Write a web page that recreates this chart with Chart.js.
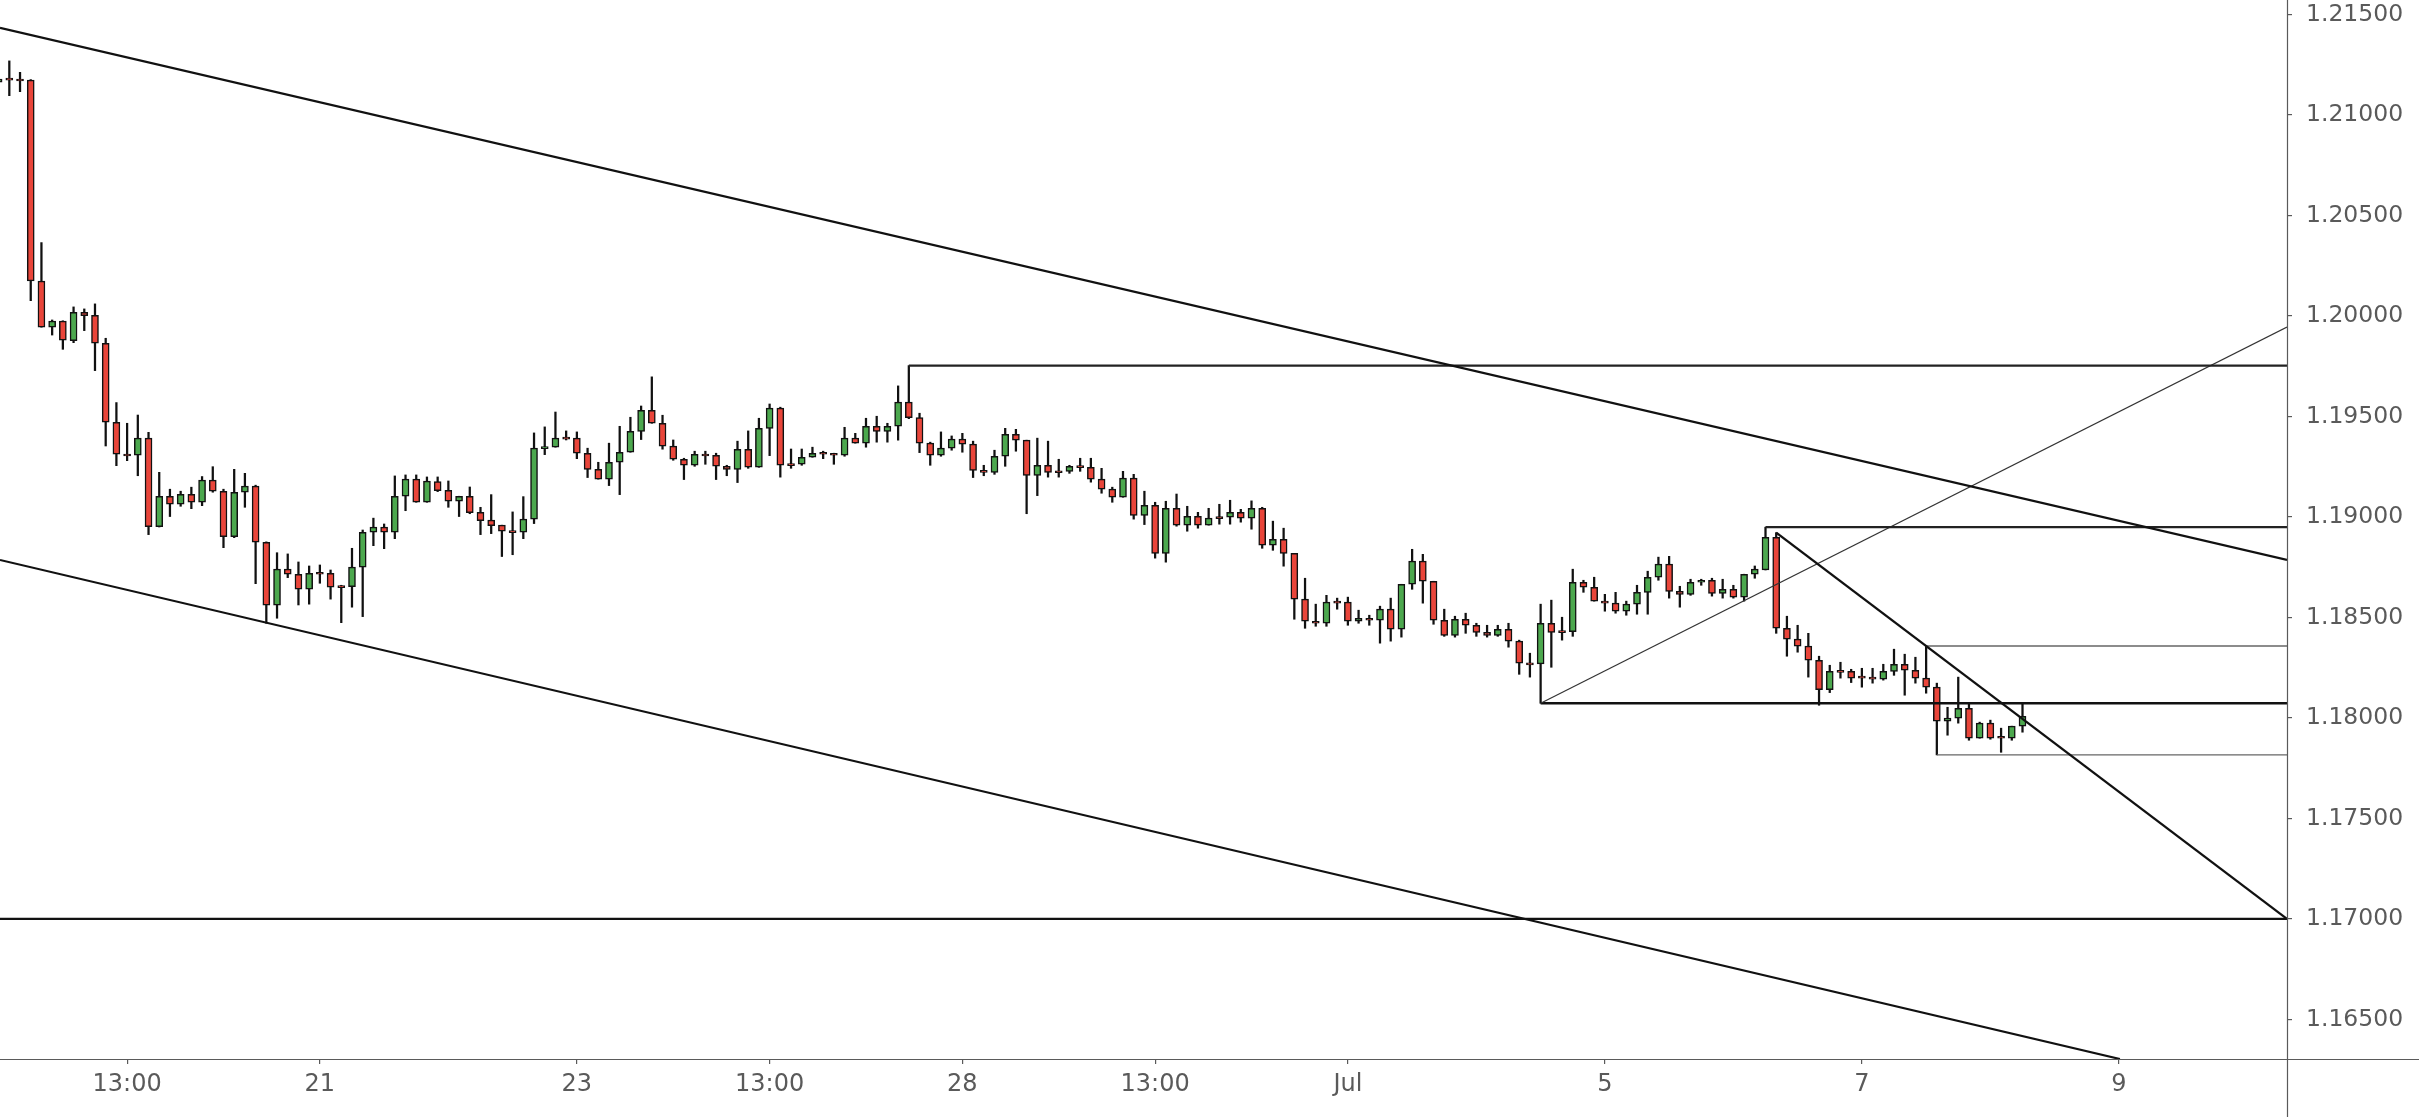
<!DOCTYPE html>
<html>
<head>
<meta charset="utf-8">
<script src="https://cdn.jsdelivr.net/npm/chart.js@4.4.0/dist/chart.umd.min.js"></script>
<style>
html,body{margin:0;padding:0;background:#ffffff;overflow:hidden}
#wrap{width:2419px;height:1117px;position:relative}
</style>
</head>
<body>
<div id="wrap"><canvas id="c" width="2419" height="1117"></canvas></div>
<script>
// ---------------- DATA ----------------
// 2-hour candles, index of the first candle in the arrays
const firstCandleIndex = -1;

const opens = [1.21163,1.21183,1.21179,1.21174,1.20174,1.19944,1.19974,1.19877,1.20018,1.20003,
1.19864,1.19471,1.19313,1.19307,1.19392,1.18952,1.19103,1.19063,1.19113,1.19073,
1.19183,1.19128,1.18902,1.19123,1.19153,1.18874,1.18561,1.18740,1.18715,1.18640,
1.18725,1.18720,1.18658,1.18653,1.18750,1.18924,1.18949,1.18924,1.19103,1.19188,
1.19073,1.19176,1.19133,1.19078,1.19103,1.19023,1.18984,1.18959,1.18932,1.18924,
1.18989,1.19340,1.19347,1.19397,1.19392,1.19317,1.19237,1.19188,1.19272,1.19322,
1.19426,1.19531,1.19466,1.19352,1.19287,1.19257,1.19313,1.19307,1.19252,1.19237,
1.19337,1.19247,1.19441,1.19541,1.19265,1.19262,1.19297,1.19322,1.19317,1.19307,
1.19392,1.19367,1.19451,1.19426,1.19451,1.19571,1.19494,1.19367,1.19307,1.19342,
1.19387,1.19362,1.19232,1.19222,1.19302,1.19411,1.19382,1.19207,1.19257,1.19230,
1.19227,1.19255,1.19247,1.19188,1.19138,1.19098,1.19193,1.19008,1.19058,1.18819,
1.19043,1.18959,1.19003,1.18959,1.19002,1.18999,1.19023,1.18994,1.19043,1.18859,
1.18889,1.18819,1.18591,1.18481,1.18471,1.18581,1.18576,1.18481,1.18496,1.18486,
1.18541,1.18441,1.18665,1.18780,1.18680,1.18486,1.18411,1.18491,1.18461,1.18426,
1.18411,1.18441,1.18382,1.18274,1.18269,1.18471,1.18434,1.18429,1.18675,1.18650,
1.18581,1.18571,1.18531,1.18566,1.18625,1.18700,1.18765,1.18630,1.18615,1.18675,
1.18685,1.18620,1.18640,1.18601,1.18715,1.18736,1.18899,1.18446,1.18392,1.18357,
1.18287,1.18141,1.18237,1.18232,1.18208,1.18203,1.18193,1.18232,1.18267,1.18237,
1.18198,1.18153,1.17984,1.17999,1.18048,1.17899,1.17974,1.17909,1.17899,1.17959];

const highs = [1.21199,1.21269,1.21212,1.21176,1.20365,1.19980,1.19976,1.20045,1.20035,1.20060,
1.19889,1.19569,1.19466,1.19507,1.19421,1.19222,1.19138,1.19128,1.19148,1.19201,
1.19250,1.19138,1.19237,1.19217,1.19158,1.18876,1.18822,1.18816,1.18776,1.18756,
1.18761,1.18736,1.18660,1.18844,1.18935,1.18994,1.18965,1.19204,1.19209,1.19209,
1.19199,1.19199,1.19179,1.19103,1.19149,1.19048,1.19111,1.18959,1.19025,1.19101,
1.19418,1.19448,1.19522,1.19428,1.19423,1.19342,1.19272,1.19367,1.19451,1.19496,
1.19552,1.19697,1.19506,1.19383,1.19292,1.19327,1.19327,1.19317,1.19257,1.19377,
1.19428,1.19491,1.19562,1.19546,1.19338,1.19338,1.19347,1.19327,1.19317,1.19446,
1.19416,1.19491,1.19501,1.19466,1.19652,1.19753,1.19516,1.19372,1.19423,1.19403,
1.19416,1.19377,1.19257,1.19332,1.19441,1.19436,1.19382,1.19392,1.19377,1.19287,
1.19257,1.19292,1.19292,1.19242,1.19148,1.19227,1.19212,1.19128,1.19073,1.19078,
1.19114,1.19053,1.19023,1.19043,1.19063,1.19083,1.19038,1.19080,1.19048,1.18979,
1.18944,1.18819,1.18695,1.18566,1.18610,1.18596,1.18601,1.18536,1.18511,1.18556,
1.18596,1.18665,1.18839,1.18814,1.18680,1.18541,1.18506,1.18521,1.18471,1.18461,
1.18461,1.18471,1.18387,1.18322,1.18566,1.18586,1.18501,1.18740,1.18685,1.18700,
1.18615,1.18625,1.18581,1.18660,1.18730,1.18800,1.18804,1.18655,1.18690,1.18690,
1.18695,1.18690,1.18660,1.18715,1.18756,1.18949,1.18922,1.18506,1.18461,1.18421,
1.18307,1.18262,1.18277,1.18242,1.18247,1.18247,1.18267,1.18342,1.18317,1.18302,
1.18358,1.18173,1.18053,1.18203,1.18068,1.17979,1.17989,1.17949,1.17959,1.18068];

const lows = [1.21149,1.21096,1.21116,1.20076,1.19944,1.19905,1.19834,1.19867,1.19927,1.19728,
1.19353,1.19255,1.19280,1.19205,1.18912,1.18950,1.19002,1.19053,1.19041,1.19056,
1.19123,1.18847,1.18897,1.19048,1.18668,1.18471,1.18496,1.18698,1.18562,1.18566,
1.18670,1.18591,1.18474,1.18551,1.18504,1.18857,1.18842,1.18892,1.19031,1.19073,
1.19073,1.19126,1.19048,1.19002,1.19016,1.18912,1.18917,1.18803,1.18812,1.18892,
1.18967,1.19310,1.19347,1.19383,1.19290,1.19196,1.19188,1.19156,1.19111,1.19322,
1.19385,1.19466,1.19337,1.19282,1.19186,1.19252,1.19262,1.19186,1.19205,1.19171,
1.19242,1.19247,1.19305,1.19198,1.19242,1.19257,1.19297,1.19290,1.19262,1.19302,
1.19367,1.19347,1.19372,1.19372,1.19382,1.19489,1.19320,1.19257,1.19302,1.19332,
1.19322,1.19196,1.19205,1.19212,1.19252,1.19327,1.19016,1.19106,1.19198,1.19198,
1.19217,1.19227,1.19173,1.19118,1.19073,1.19098,1.18989,1.18962,1.18795,1.18775,
1.18954,1.18929,1.18944,1.18959,1.18964,1.18964,1.18974,1.18939,1.18844,1.18834,
1.18755,1.18491,1.18446,1.18456,1.18456,1.18541,1.18461,1.18471,1.18461,1.18372,
1.18382,1.18402,1.18640,1.18571,1.18466,1.18406,1.18402,1.18421,1.18406,1.18402,
1.18406,1.18352,1.18217,1.18203,1.18073,1.18252,1.18387,1.18406,1.18625,1.18581,
1.18531,1.18521,1.18511,1.18516,1.18516,1.18685,1.18596,1.18551,1.18610,1.18660,
1.18606,1.18596,1.18596,1.18581,1.18695,1.18736,1.18421,1.18307,1.18327,1.18203,
1.18063,1.18126,1.18198,1.18176,1.18153,1.18173,1.18188,1.18212,1.18113,1.18173,
1.18123,1.17816,1.17914,1.17974,1.17889,1.17899,1.17894,1.17829,1.17889,1.17929];

const closes = [1.21178,1.21173,1.21169,1.20174,1.19944,1.19975,1.19879,1.20018,1.20001,1.19864,
1.19471,1.19312,1.19303,1.19392,1.18952,1.19103,1.19063,1.19113,1.19073,1.19183,
1.19128,1.18902,1.19123,1.19153,1.18874,1.18561,1.18740,1.18715,1.18640,1.18720,
1.18715,1.18650,1.18648,1.18750,1.18924,1.18949,1.18924,1.19103,1.19188,1.19073,
1.19178,1.19131,1.19078,1.19103,1.19021,1.18982,1.18957,1.18929,1.18922,1.18989,
1.19342,1.19350,1.19392,1.19387,1.19317,1.19237,1.19188,1.19272,1.19322,1.19426,
1.19531,1.19466,1.19352,1.19287,1.19257,1.19312,1.19303,1.19252,1.19237,1.19337,
1.19247,1.19441,1.19541,1.19257,1.19255,1.19297,1.19317,1.19312,1.19307,1.19392,
1.19367,1.19451,1.19426,1.19451,1.19571,1.19494,1.19367,1.19307,1.19342,1.19387,
1.19362,1.19232,1.19222,1.19302,1.19411,1.19382,1.19207,1.19257,1.19222,1.19220,
1.19252,1.19245,1.19188,1.19138,1.19098,1.19193,1.19008,1.19058,1.18819,1.19043,
1.18959,1.19003,1.18959,1.18994,1.18992,1.19023,1.18994,1.19043,1.18859,1.18889,
1.18819,1.18591,1.18481,1.18471,1.18576,1.18571,1.18481,1.18496,1.18486,1.18541,
1.18441,1.18665,1.18780,1.18680,1.18486,1.18411,1.18491,1.18461,1.18426,1.18411,
1.18441,1.18382,1.18272,1.18264,1.18471,1.18426,1.18424,1.18675,1.18650,1.18581,
1.18571,1.18531,1.18566,1.18625,1.18700,1.18765,1.18630,1.18615,1.18675,1.18685,
1.18620,1.18640,1.18601,1.18715,1.18740,1.18899,1.18446,1.18392,1.18357,1.18287,
1.18141,1.18232,1.18227,1.18198,1.18198,1.18193,1.18232,1.18267,1.18237,1.18198,
1.18153,1.17984,1.17999,1.18048,1.17899,1.17974,1.17899,1.17899,1.17959,1.18008];

// time axis (candle index) tick positions and their labels
const xTickValues = [11, 29, 53, 71, 89, 107, 125, 149, 173, 197];
const xTickLabels = ['13:00', '21', '23', '13:00', '28', '13:00', 'Jul', '5', '7', '9'];
// price axis ticks
const yTickValues = [1.165, 1.170, 1.175, 1.180, 1.185, 1.190, 1.195, 1.200, 1.205, 1.210, 1.215];

// visible ranges
const xRange = [-0.87, 212.7];
const yRange = [1.16303, 1.21572];

// drawn trend / level lines: [candle index, price] end points
const channelTop    = [[-0.87, 1.21433], [212.7, 1.18786]];
const channelBottom = [[-0.87, 1.18786], [197.1, 1.16303]];
const level117      = [[-0.87, 1.17000], [212.7, 1.17000]];
const levelHigh     = [[84, 1.19753], [212.7, 1.19753]];
const levelMid      = [[164, 1.18949], [212.7, 1.18949]];
const fallingLine   = [[165, 1.18922], [212.7, 1.17000]];
const risingLine    = [[143, 1.18073], [212.7, 1.19945]];
const levelLow      = [[143, 1.18073], [212.7, 1.18073]];
const rangeTop      = [[179, 1.18358], [212.7, 1.18358]];
const rangeBottom   = [[180, 1.17816], [212.7, 1.17816]];

// ---------------- CHART ----------------
const UP = '#4ca84e', DOWN = '#e9453a', AXIS = '#5a5a5a';
const xs = opens.map((_, k) => firstCandleIndex + k);
const wickData = xs.map((x, k) => ({x: x, y: [lows[k], highs[k]]}));
const bodyData = xs.map((x, k) => ({x: x, y: [Math.min(opens[k], closes[k]), Math.max(opens[k], closes[k])]}));
const bodyColors = xs.map((x, k) => closes[k] >= opens[k] ? UP : DOWN);

function lineDs(pts, width, color, order) {
  return {
    type: 'line',
    data: pts.map(p => ({x: p[0], y: p[1]})),
    borderColor: color,
    borderWidth: width,
    pointRadius: 0,
    fill: false,
    tension: 0,
    order: order
  };
}

const axisLines = {
  id: 'axisLines',
  afterDraw(chart) {
    const {ctx, chartArea, width, height} = chart;
    ctx.save();
    ctx.strokeStyle = AXIS;
    ctx.lineWidth = 1.2;
    const xr = Math.round(chartArea.right) + 0.5;
    const yb = Math.round(chartArea.bottom) + 0.5;
    ctx.beginPath();
    ctx.moveTo(xr, 0); ctx.lineTo(xr, height);
    ctx.moveTo(0, yb); ctx.lineTo(width, yb);
    ctx.stroke();
    ctx.restore();
  }
};

new Chart(document.getElementById('c'), {
  type: 'bar',
  data: {
    datasets: [
      lineDs(channelTop, 2.2, '#111', 0),
      lineDs(channelBottom, 2.2, '#111', 0),
      lineDs(level117, 2.2, '#111', 0),
      lineDs(levelHigh, 2.2, '#222', 0),
      lineDs(levelMid, 2.2, '#222', 0),
      lineDs(fallingLine, 2.4, '#111', 0),
      lineDs(risingLine, 1.2, '#333', 0),
      lineDs(levelLow, 2.4, '#111', 0),
      lineDs(rangeTop, 1.4, '#666', 0),
      lineDs(rangeBottom, 1.4, '#666', 0),
      {
        type: 'bar', data: bodyData, backgroundColor: bodyColors,
        borderColor: '#111', borderWidth: 1.5, borderSkipped: false,
        barThickness: 7, grouped: false, order: 2
      },
      {
        type: 'bar', data: wickData, backgroundColor: '#111',
        borderWidth: 0, barThickness: 1.6, grouped: false, order: 3
      }
    ]
  },
  options: {
    responsive: false,
    animation: false,
    devicePixelRatio: 1,
    layout: {padding: 0},
    plugins: {legend: {display: false}, tooltip: {enabled: false}},
    scales: {
      x: {
        type: 'linear', position: 'bottom', min: xRange[0], max: xRange[1], offset: false,
        grid: {drawOnChartArea: false, drawTicks: true, tickLength: 5, color: AXIS, lineWidth: 1.2, offset: false},
        border: {display: false},
        ticks: {
          autoSkip: false, maxRotation: 0, minRotation: 0, padding: 6,
          font: {family: 'DejaVu Sans', size: 24}, color: AXIS,
          callback: (v, i) => xTickLabels[i]
        },
        afterBuildTicks: s => { s.ticks = xTickValues.map(v => ({value: v})); },
        afterFit: s => { s.height = 58; s.paddingLeft = 0; s.paddingRight = 0; }
      },
      y: {
        type: 'linear', position: 'right', min: yRange[0], max: yRange[1],
        grid: {drawOnChartArea: false, drawTicks: true, tickLength: 5, color: AXIS, lineWidth: 1.2},
        border: {display: false},
        ticks: {
          padding: 14, font: {family: 'DejaVu Sans', size: 23.5}, color: AXIS,
          callback: v => v.toFixed(5)
        },
        afterBuildTicks: s => { s.ticks = yTickValues.map(v => ({value: v})); },
        afterFit: s => { s.width = 132; s.paddingTop = 0; s.paddingBottom = 0; }
      }
    }
  },
  plugins: [axisLines]
});
</script>
</body>
</html>
